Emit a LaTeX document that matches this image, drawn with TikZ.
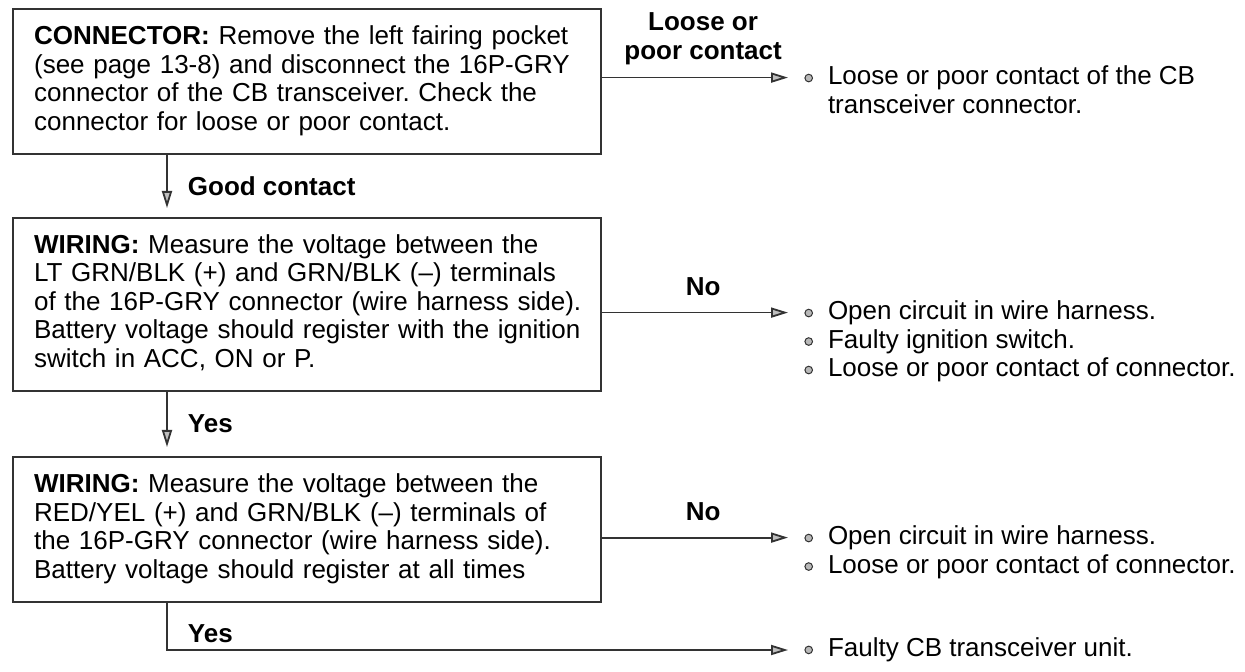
\documentclass[tikz,border=0pt]{standalone}
\usepackage{fontspec}
\setmainfont{Liberation Sans}
\frenchspacing
\usetikzlibrary{arrows.meta,positioning,calc}
\tikzset{
  stepbox/.style={draw=black!80,line width=1.1pt,rectangle,anchor=north west,align=left,
    text width=273pt,inner xsep=10.5pt,inner ysep=0pt,font=\fontsize{13pt}{14.25pt}\selectfont},
  result/.style={anchor=north west,align=left,inner sep=0pt,font=\fontsize{13pt}{14.25pt}\selectfont},
  flow/.style={draw=black!80,line width=0.9pt,shorten >=4.5pt,
    -{Triangle[length=8.5pt,width=5pt,fill=gray!50]}},
  lbl/.style={font=\fontsize{13pt}{14.25pt}\selectfont\bfseries,inner sep=0pt,align=center}
}
\newcommand{\bul}{\tikz[baseline=-3.4pt]\draw[draw=black!80,fill=gray!55,line width=0.5pt] (0,0) circle (1.9pt);\hspace{7.5pt}}
\newcommand{\boxlines}[1]{\begin{tabular}{@{}l@{}}#1\end{tabular}}
\begin{document}
\begin{tikzpicture}[x=0.5pt,y=-0.5pt]
\useasboundingbox (0,0) rectangle (1245,672);
\node[stepbox,minimum height=72.5pt] (conn) at (12,8) {\boxlines{\textbf{CONNECTOR:} Remove the left fairing pocket\\(see page 13-8) and disconnect the 16P-GRY\\connector of the CB transceiver. Check the\\connector for loose or poor contact.}};
\node[stepbox,minimum height=86.5pt] (wire1) at (12,217) {\boxlines{\textbf{WIRING:} Measure the voltage between the\\LT GRN/BLK (+) and GRN/BLK (--) terminals\\of the 16P-GRY connector (wire harness side).\\Battery voltage should register with the ignition\\switch in ACC, ON or P.}};
\node[stepbox,minimum height=72.5pt] (wire2) at (12,456) {\boxlines{\textbf{WIRING:} Measure the voltage between the\\RED/YEL (+) and GRN/BLK (--) terminals of\\the 16P-GRY connector (wire harness side).\\Battery voltage should register at all times}};
\coordinate (trunk) at (167,0);
\coordinate (resx) at (804,0);
\node[result] (res1) at ($(conn.east -| resx)+(0,-16)$) {\bul Loose or poor contact of the CB\\\phantom{\bul}transceiver connector.};
\node[result] (res2) at ($(wire1.east -| resx)+(0,-4)$) {\bul Open circuit in wire harness.\\\bul Faulty ignition switch.\\\bul Loose or poor contact of connector.};
\node[result] (res3) at ($(wire2.east -| resx)+(0,-4)$) {\bul Open circuit in wire harness.\\\bul Loose or poor contact of connector.};
\node[result,anchor=west] (res4) at (804,650) {\bul Faulty CB transceiver unit.};
\draw[flow] (conn.south -| trunk) -- (wire1.north -| trunk) node[lbl,midway,right=10pt] {Good contact};
\draw[flow] (wire1.south -| trunk) -- (wire2.north -| trunk) node[lbl,midway,right=10pt] {Yes};
\draw[flow,shorten >=8pt] (wire2.south -| trunk) |- (res4.west) node[lbl,pos=0.33,right=10pt] {Yes};
\draw[flow,shorten >=8pt] ($(conn.east)+(0,-4)$) -- ($(conn.east -| res1.west)+(0,-4)$) node[lbl,midway,above=6pt] {Loose or\\poor contact};
\draw[flow,shorten >=8pt] ($(wire1.east)+(0,8)$) -- ($(wire1.east -| res2.west)+(0,8)$) node[lbl,midway,above=8pt] {No};
\draw[flow,shorten >=8pt] ($(wire2.east)+(0,8)$) -- ($(wire2.east -| res3.west)+(0,8)$) node[lbl,midway,above=8pt] {No};
\end{tikzpicture}
\end{document}
